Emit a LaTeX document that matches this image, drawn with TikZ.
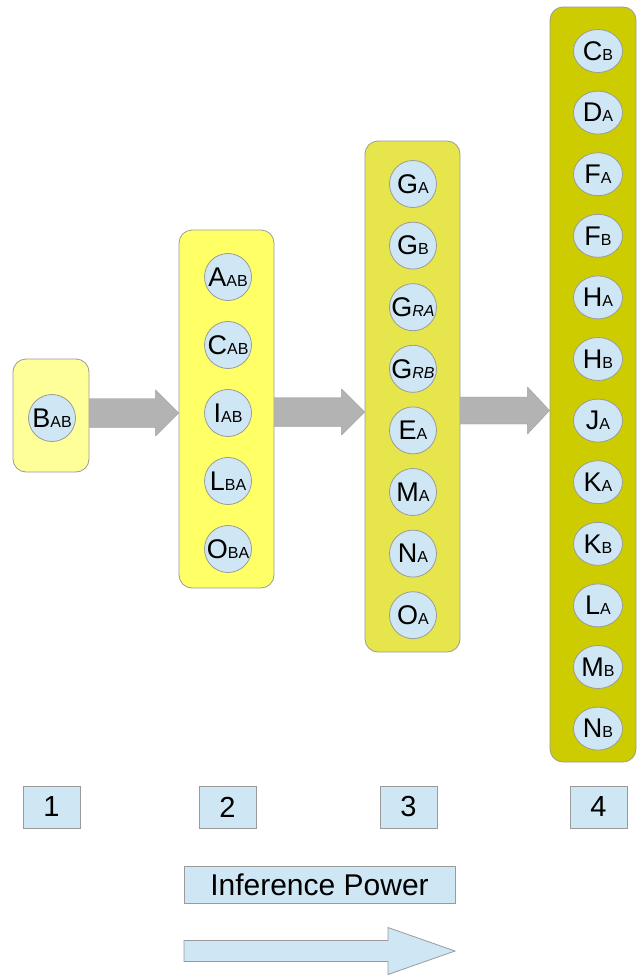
\documentclass[tikz,border=0pt]{standalone}
\usepackage{fontspec}
\setmainfont{Liberation Sans}
\usetikzlibrary{calc,shapes.geometric}
\definecolor{cone}{HTML}{FFFF99}
\definecolor{ctwo}{HTML}{FFFF66}
\definecolor{cthree}{HTML}{E6E64C}
\definecolor{cfour}{HTML}{CCCC00}
\definecolor{cball}{HTML}{CFE7F5}
\definecolor{agray}{HTML}{B3B3B3}
\definecolor{bgray}{HTML}{9A9A9A}
\newcommand\lbl[2]{{\fontsize{27}{27}\selectfont #1}{\fontsize{16}{16}\selectfont #2}}
\newcommand\blockarr[6]{\filldraw[#1] ($(#2)+(0,#4)$) -- ($(#3)+(-#6,#4)$) -- ($(#3)+(-#6,#5)$) -- (#3) -- ($(#3)+(-#6,-#5)$) -- ($(#3)+(-#6,-#4)$) -- ($(#2)+(0,-#4)$) -- cycle;}
\tikzset{
  colbox/.style={draw=bgray, line width=0.8pt, rounded corners=13pt, inner sep=0pt},
  ball/.style={draw=bgray, fill=cball, circle, minimum size=47pt, inner sep=0pt, line width=0.8pt},
  oval/.style={draw=bgray, fill=cball, ellipse, minimum width=49pt, minimum height=43pt, inner sep=0pt, line width=0.8pt},
  numbox/.style={draw=bgray, fill=cball, minimum width=57pt, minimum height=42pt, inner sep=0pt, line width=0.8pt, font=\fontsize{29}{29}\selectfont},
  garrow/.style={fill=agray, draw=agray!85!black, line width=0.3pt},
  barrow/.style={fill=cball, draw=bgray, line width=0.8pt}
}
\begin{document}
\begin{tikzpicture}[x=1pt,y=-1pt]
\useasboundingbox (0,0) rectangle (637,977);
% column boxes
\node[colbox, fill=cone, minimum width=76pt, minimum height=113pt] (b1) at (51,415.5) {};
\node[colbox, fill=ctwo, minimum width=95pt, minimum height=358pt] (b2) at (226.5,409) {};
\node[colbox, fill=cthree, minimum width=95pt, minimum height=511pt] (b3) at (412.5,396.5) {};
\node[colbox, fill=cfour, minimum width=86pt, minimum height=755pt] (b4) at (593,384.5) {};
% arrows between columns
\coordinate (a1s) at (b1.east |- 0,413);
\coordinate (a1e) at (b2.west |- 0,413);
\coordinate (a2s) at (b2.east |- 0,412);
\coordinate (a2e) at (b3.west |- 0,412);
\coordinate (a3s) at (b3.east |- 0,410.5);
\coordinate (a3e) at (b4.west |- 0,410.5);
\blockarr{garrow}{a1s}{a1e}{14.5}{23}{23}
\blockarr{garrow}{a2s}{a2e}{14.5}{23}{23}
\blockarr{garrow}{a3s}{a3e}{13.5}{23.5}{22}
% column 1
\node[ball] (bab) at (52,418) {\lbl{B}{AB}};
% column 2
\node[ball] (aab) at (228,277) {\lbl{A}{AB}};
\node[ball] (cab) at (228,345) {\lbl{C}{AB}};
\node[ball] (iab) at (228,413) {\lbl{I}{AB}};
\node[ball] (lba) at (228,481) {\lbl{L}{BA}};
\node[ball] (oba) at (228,549) {\lbl{O}{BA}};
% column 3
\node[ball] (ga) at (413,184) {\lbl{G}{A}};
\node[ball] (gb) at (413,245.6) {\lbl{G}{B}};
\node[ball] (gra) at (413,307.2) {\lbl{G}{\itshape RA}};
\node[ball] (grb) at (413,368.8) {\lbl{G}{\itshape RB}};
\node[ball] (ea) at (413,430.4) {\lbl{E}{A}};
\node[ball] (ma) at (413,492) {\lbl{M}{A}};
\node[ball] (na) at (413,553.6) {\lbl{N}{A}};
\node[ball] (oa) at (413,615.2) {\lbl{O}{A}};
% column 4
\node[oval] (cb) at (598,51) {\lbl{C}{B}};
\node[oval] (da) at (598,112.6) {\lbl{D}{A}};
\node[oval] (fa) at (598,174.2) {\lbl{F}{A}};
\node[oval] (fb) at (598,235.8) {\lbl{F}{B}};
\node[oval] (ha) at (598,297.4) {\lbl{H}{A}};
\node[oval] (hb) at (598,359) {\lbl{H}{B}};
\node[oval] (ja) at (598,420.6) {\lbl{J}{A}};
\node[oval] (ka) at (598,482.2) {\lbl{K}{A}};
\node[oval] (kb) at (598,543.8) {\lbl{K}{B}};
\node[oval] (la) at (598,605.4) {\lbl{L}{A}};
\node[oval] (mb) at (598,667) {\lbl{M}{B}};
\node[oval] (nb) at (598,728.6) {\lbl{N}{B}};
% number boxes
\node[numbox] (n1) at (51.5,807) {1};
\node[numbox] (n2) at (227.5,807) {2};
\node[numbox] (n3) at (408.5,807) {3};
\node[numbox] (n4) at (598.5,807) {4};
% inference power
\node[draw=bgray, fill=cball, minimum width=271pt, minimum height=37pt, inner sep=0pt, line width=0.8pt, font=\fontsize{30}{30}\selectfont] (ip) at (319.5,884.5) {Inference Power};
\coordinate (ps) at (184,951);
\coordinate (pe) at (455,951);
\blockarr{barrow}{ps}{pe}{10.5}{23.5}{67}
\end{tikzpicture}
\end{document}
